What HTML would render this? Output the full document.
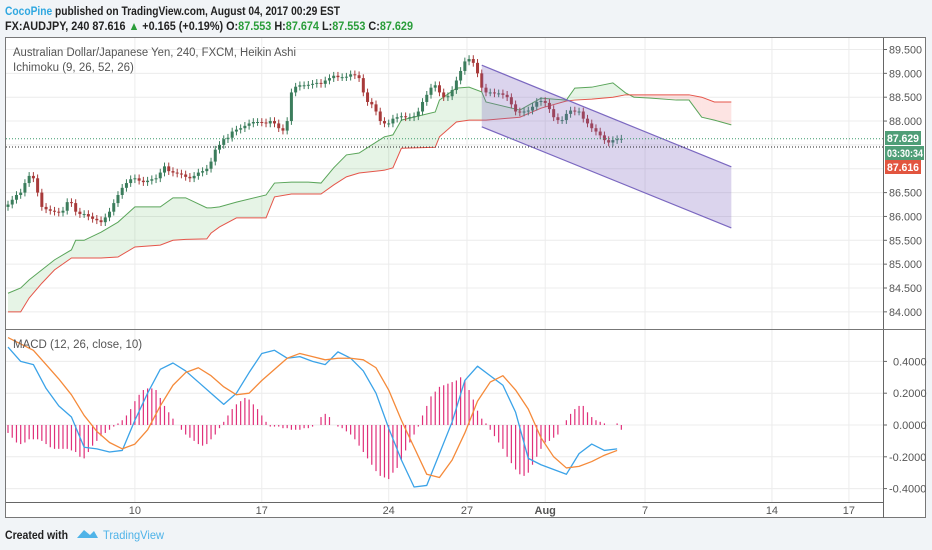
<!DOCTYPE html>
<html><head><meta charset="utf-8"><style>
html,body{margin:0;padding:0;background:#f1f4f7;width:932px;height:550px;overflow:hidden}
svg{display:block;font-family:"Liberation Sans",sans-serif}
</style></head><body>
<svg id="c" width="932" height="550" viewBox="0 0 932 550">
<text x="5" y="15" font-size="12" font-weight="bold" fill="#222" textLength="335" lengthAdjust="spacingAndGlyphs"><tspan fill="#2ea7e0">CocoPine</tspan> published on TradingView.com, August 04, 2017 00:29 EST</text>
<text x="5" y="30" font-size="12" font-weight="bold" fill="#222" textLength="408" lengthAdjust="spacingAndGlyphs">FX:AUDJPY, 240  87.616 <tspan fill="#2a9d3a">▲</tspan> +0.165 (+0.19%) O:<tspan fill="#2a9d3a">87.553</tspan> H:<tspan fill="#2a9d3a">87.674</tspan> L:<tspan fill="#2a9d3a">87.553</tspan> C:<tspan fill="#2a9d3a">87.629</tspan></text>
<rect x="5.5" y="37.5" width="920" height="480" fill="#fff" stroke="#777"/>
<g id="grid"></g><g id="cloud"></g><g id="candles"></g><g id="channel"></g><g id="macd"></g><g id="axes"></g>
<text x="13" y="56" font-size="11.5" fill="#555" textLength="283" lengthAdjust="spacingAndGlyphs">Australian Dollar/Japanese Yen, 240, FXCM, Heikin Ashi</text>
<text x="13" y="71" font-size="11.5" fill="#555">Ichimoku (9, 26, 52, 26)</text>
<text x="13" y="348" font-size="11.5" fill="#555">MACD (12, 26, close, 10)</text>
<text x="5" y="539" font-size="12" font-weight="bold" fill="#222" textLength="63" lengthAdjust="spacingAndGlyphs">Created with</text>
<path d="M77 538 L84 530 L90 535 L94 531 L98 538 Z" fill="#4fb3e8"/>
<text x="103" y="539" font-size="12" fill="#4fb3e8" textLength="61" lengthAdjust="spacingAndGlyphs">TradingView</text>
</svg>
<script>
const closes=[86.25,86.35,86.45,86.5,86.7,86.85,86.8,86.5,86.2,86.15,86.12,86.1,86.08,86.12,86.3,86.28,86.1,86.05,86.05,86.0,85.95,85.92,85.88,85.98,86.1,86.28,86.45,86.6,86.7,86.78,86.8,86.75,86.72,86.75,86.78,86.8,86.92,87.05,86.95,86.92,86.9,86.88,86.83,86.8,86.85,86.92,86.95,87.0,87.15,87.4,87.5,87.62,87.65,87.78,87.82,87.85,87.9,87.95,87.98,87.98,87.97,87.95,88.0,87.95,87.85,87.8,88.0,88.6,88.72,88.75,88.75,88.76,88.78,88.8,88.78,88.85,88.9,88.95,88.92,88.92,88.93,88.98,88.96,88.9,88.6,88.4,88.35,88.2,88.0,87.95,87.95,88.05,88.08,88.1,88.08,88.08,88.1,88.2,88.4,88.55,88.7,88.75,88.6,88.5,88.52,88.65,88.85,89.05,89.25,89.3,89.22,89.0,88.7,88.6,88.6,88.58,88.58,88.55,88.5,88.35,88.2,88.18,88.2,88.22,88.3,88.4,88.42,88.38,88.25,88.08,88.02,88.02,88.15,88.22,88.2,88.2,88.05,87.95,87.85,87.78,87.7,87.6,87.55,87.6,87.62,87.63];
const cloudIdx=[0,3,5,8,11,15,16,18,22,26,30,36,39,42,47,48,50,54,61,63,67,71,74,77,80,83,89,91,93,101,102,106,109,112,113,121,126,132,134,138,143,146,148,152,158,161,164,167,171];
const spanA=[84.39,84.5,84.67,84.88,85.09,85.3,85.5,85.5,85.67,85.88,86.2,86.2,86.39,86.39,86.18,86.18,86.2,86.3,86.45,86.7,86.72,86.72,86.7,87.02,87.29,87.33,87.67,87.71,88.02,88.19,88.44,88.69,88.71,88.61,88.4,88.23,88.48,88.44,88.69,88.71,88.8,88.59,88.5,88.48,88.44,88.44,88.08,88.02,87.92];
const spanB=[84.0,84.0,84.29,84.6,84.88,85.13,85.13,85.13,85.13,85.15,85.36,85.4,85.5,85.52,85.53,85.65,85.78,85.97,85.97,86.41,86.47,86.47,86.47,86.66,86.83,86.91,86.97,87.02,87.43,87.45,87.67,87.98,88.02,88.02,88.02,88.08,88.27,88.42,88.44,88.46,88.5,88.55,88.55,88.55,88.55,88.55,88.5,88.4,88.4];
const macdLine=[0.49,0.40,0.38,0.23,0.12,0.05,-0.14,-0.15,-0.17,-0.16,0.03,0.2,0.35,0.39,0.34,0.27,0.2,0.13,0.2,0.33,0.45,0.47,0.42,0.43,0.40,0.38,0.46,0.42,0.34,0.2,-0.02,-0.22,-0.39,-0.38,-0.18,0.02,0.28,0.37,0.31,0.25,0.08,-0.21,-0.25,-0.28,-0.31,-0.18,-0.12,-0.16,-0.15];
const signalLine=[0.55,0.51,0.47,0.38,0.29,0.19,0.06,-0.04,-0.11,-0.15,-0.12,-0.03,0.12,0.25,0.33,0.36,0.31,0.24,0.19,0.2,0.28,0.35,0.42,0.45,0.43,0.41,0.42,0.42,0.41,0.36,0.22,0.03,-0.14,-0.31,-0.33,-0.22,-0.05,0.15,0.27,0.31,0.22,0.1,-0.08,-0.2,-0.27,-0.26,-0.23,-0.19,-0.16];
const hist=[-0.05,-0.08,-0.11,-0.12,-0.11,-0.09,-0.09,-0.09,-0.1,-0.12,-0.14,-0.15,-0.15,-0.15,-0.15,-0.16,-0.17,-0.2,-0.21,-0.17,-0.13,-0.1,-0.07,-0.05,-0.03,-0.01,0.01,0.03,0.06,0.1,0.15,0.19,0.22,0.23,0.23,0.22,0.17,0.12,0.08,0.04,0.0,-0.03,-0.06,-0.08,-0.1,-0.12,-0.13,-0.12,-0.09,-0.06,-0.02,0.02,0.06,0.1,0.13,0.15,0.17,0.16,0.13,0.1,0.06,0.02,-0.01,-0.01,-0.01,-0.02,-0.02,-0.03,-0.03,-0.03,-0.02,-0.02,-0.01,0.0,0.05,0.07,0.05,0.0,-0.01,-0.02,-0.04,-0.06,-0.09,-0.13,-0.17,-0.21,-0.25,-0.29,-0.32,-0.33,-0.34,-0.3,-0.27,-0.22,-0.16,-0.11,-0.06,-0.01,0.06,0.12,0.18,0.21,0.24,0.25,0.26,0.27,0.28,0.3,0.28,0.22,0.16,0.09,0.04,0.01,-0.03,-0.07,-0.11,-0.15,-0.2,-0.24,-0.28,-0.31,-0.32,-0.3,-0.25,-0.2,-0.15,-0.11,-0.1,-0.08,-0.06,0.0,0.03,0.07,0.1,0.12,0.12,0.08,0.05,0.03,0.02,0.01,0.0,0.0,0.01,-0.03];
const channelIdx=[112,171];
const channelTop=[89.17,87.04];
const channelBottom=[87.88,85.76];
const priceTicks=[89.5,89.0,88.5,88.0,87.5,87.0,86.5,86.0,85.5,85.0,84.5,84.0];
const priceTickLabels=["89.500","89.000","88.500","88.000",null,null,"86.500","86.000","85.500","85.000","84.500","84.000"];
const macdTicks=[0.4,0.2,0,-0.2,-0.4];
const macdTickLabels=["0.4000","0.2000","0.0000","-0.2000","-0.4000"];
const timeLabels=["10","17","24","27","Aug","7","14","17"];
const timeIdx=[30,60,90,108.5,127,150.6,180.6,198.8];
const lastPrice=87.629, closePrice=87.616;

const NS="http://www.w3.org/2000/svg";
const X=i=>8+i*4.23;
const Y=p=>49.5+(89.5-p)*47.7;
const M=v=>425-v*159;
function mk(tag,attrs,parent,text){const e=document.createElementNS(NS,tag);for(const k in attrs)e.setAttribute(k,attrs[k]);if(text!==undefined)e.textContent=text;document.getElementById(parent).appendChild(e);return e;}

priceTicks.forEach(p=>{const e=mk('line',{x1:6,x2:883,y1:Y(p),y2:Y(p),stroke:'#ececec'},'grid');

});
macdTicks.forEach(v=>{const e=mk('line',{x1:6,x2:883,y1:M(v),y2:M(v),stroke:'#ececec'},'grid');

});
timeIdx.forEach(t=>{const e=mk('line',{x1:X(t),x2:X(t),y1:38,y2:502,stroke:'#ececec'},'grid');

});

for(let k=0;k<cloudIdx.length-1;k++){
 const a0=spanA[k],a1=spanA[k+1],b0=spanB[k],b1=spanB[k+1];
 const green=(a0+a1)>=(b0+b1);
 const e=mk('polygon',{points:`${X(cloudIdx[k])},${Y(a0)} ${X(cloudIdx[k+1])},${Y(a1)} ${X(cloudIdx[k+1])},${Y(b1)} ${X(cloudIdx[k])},${Y(b0)}`,fill:green?'rgba(76,175,80,0.14)':'rgba(244,67,54,0.14)'},'cloud');
 
 
}
const la=mk('polyline',{points:cloudIdx.map((t,k)=>X(t)+','+Y(spanA[k])).join(' '),fill:'none',stroke:'#5aa55a','stroke-width':1},'cloud');


const lb=mk('polyline',{points:cloudIdx.map((t,k)=>X(t)+','+Y(spanB[k])).join(' '),fill:'none',stroke:'#e5554a','stroke-width':1},'cloud');



closes.forEach((c,i)=>{
 const o=i?closes[i-1]:c-0.05;
 const up=c>=o;const col=up?'#3b7d5c':'#a83a3a';
 const hi=Math.max(o,c)+0.08, lo=Math.min(o,c)-0.08;
 const x=X(i);
 const w=mk('line',{x1:x,x2:x,y1:Y(hi),y2:Y(lo),stroke:col,'stroke-width':1},'candles');
 
 
 const top=Y(Math.max(o,c)),h=Math.max(1,Y(Math.min(o,c))-top);
 const b=mk('rect',{x:x-1.5,y:top,width:3,height:h,fill:col},'candles');
 
 
});

const ch=mk('polygon',{points:`${X(channelIdx[0])},${Y(channelTop[0])} ${X(channelIdx[1])},${Y(channelTop[1])} ${X(channelIdx[1])},${Y(channelBottom[1])} ${X(channelIdx[0])},${Y(channelBottom[0])}`,fill:'rgba(126,100,190,0.28)',stroke:'none'},'channel');


[channelTop,channelBottom].forEach((arr,j)=>{const l=mk('line',{x1:X(channelIdx[0]),y1:Y(arr[0]),x2:X(channelIdx[1]),y2:Y(arr[1]),stroke:'#7b68c0','stroke-width':1.2},'channel');

});

const pl=mk('line',{x1:6,x2:883,y1:Y(lastPrice),y2:Y(lastPrice),stroke:'#3b9a6b','stroke-dasharray':'1,2'},'channel');


const cl=mk('line',{x1:6,x2:883,y1:147,y2:147,stroke:'#222','stroke-dasharray':'1,2'},'channel');



hist.forEach((v,i)=>{const e=mk('line',{x1:X(i),x2:X(i),y1:M(0),y2:M(v),stroke:'#e0307a','stroke-width':1.2},'macd');

});
const mX=k=>X(k*3);
const ml=mk('polyline',{points:macdLine.map((v,k)=>mX(k)+','+M(v)).join(' '),fill:'none',stroke:'#3ba3e8','stroke-width':1.3,'stroke-linejoin':'round'},'macd');


const sl=mk('polyline',{points:signalLine.map((v,k)=>mX(k)+','+M(v)).join(' '),fill:'none',stroke:'#f58a3a','stroke-width':1.3,'stroke-linejoin':'round'},'macd');



[['line',{x1:883.5,x2:883.5,y1:38,y2:518,stroke:'#666'}],['line',{x1:6,x2:926,y1:329.5,y2:329.5,stroke:'#777'}],['line',{x1:6,x2:883,y1:502.5,y2:502.5,stroke:'#666'}]].forEach(([t,a])=>{const e=mk(t,a,'axes');

});
priceTicks.forEach((p,k)=>{if(!priceTickLabels[k])return;
 const tk=mk('line',{x1:883,x2:887,y1:Y(p),y2:Y(p),stroke:'#666'},'axes');
 
 
 const t=mk('text',{x:889,y:Y(p)+4,'font-size':11,fill:'#555',textLength:33,lengthAdjust:'spacingAndGlyphs'},'axes',priceTickLabels[k]);
 
 });
macdTicks.forEach((v,k)=>{
 const tk=mk('line',{x1:883,x2:887,y1:M(v),y2:M(v),stroke:'#666'},'axes');
 
 
 const t=mk('text',{x:v<0?889:893,y:M(v)+4,'font-size':11,fill:'#555'},'axes',macdTickLabels[k]);
 
 });
timeLabels.forEach((s,k)=>{const t=mk('text',{x:X(timeIdx[k]),y:514,'font-size':11,fill:'#555','text-anchor':'middle','font-weight':s==='Aug'?'bold':'normal'},'axes',s);
 
 });
[[131,'#4f9e77','87.629',921,32],[146,'#4f9e77','03:30:34',924,36],[160,'#e2553f','87.616',921,32]].forEach(([y,c,s,r,tl])=>{
 const b=mk('rect',{x:885,y:y,width:r-885,height:14,fill:c},'axes');
 
 
 const t=mk('text',{x:887,y:y+11,'font-size':11,'font-weight':'bold',fill:'#fff',textLength:tl,lengthAdjust:'spacingAndGlyphs'},'axes',s);
 
 });
</script>
</body></html>
